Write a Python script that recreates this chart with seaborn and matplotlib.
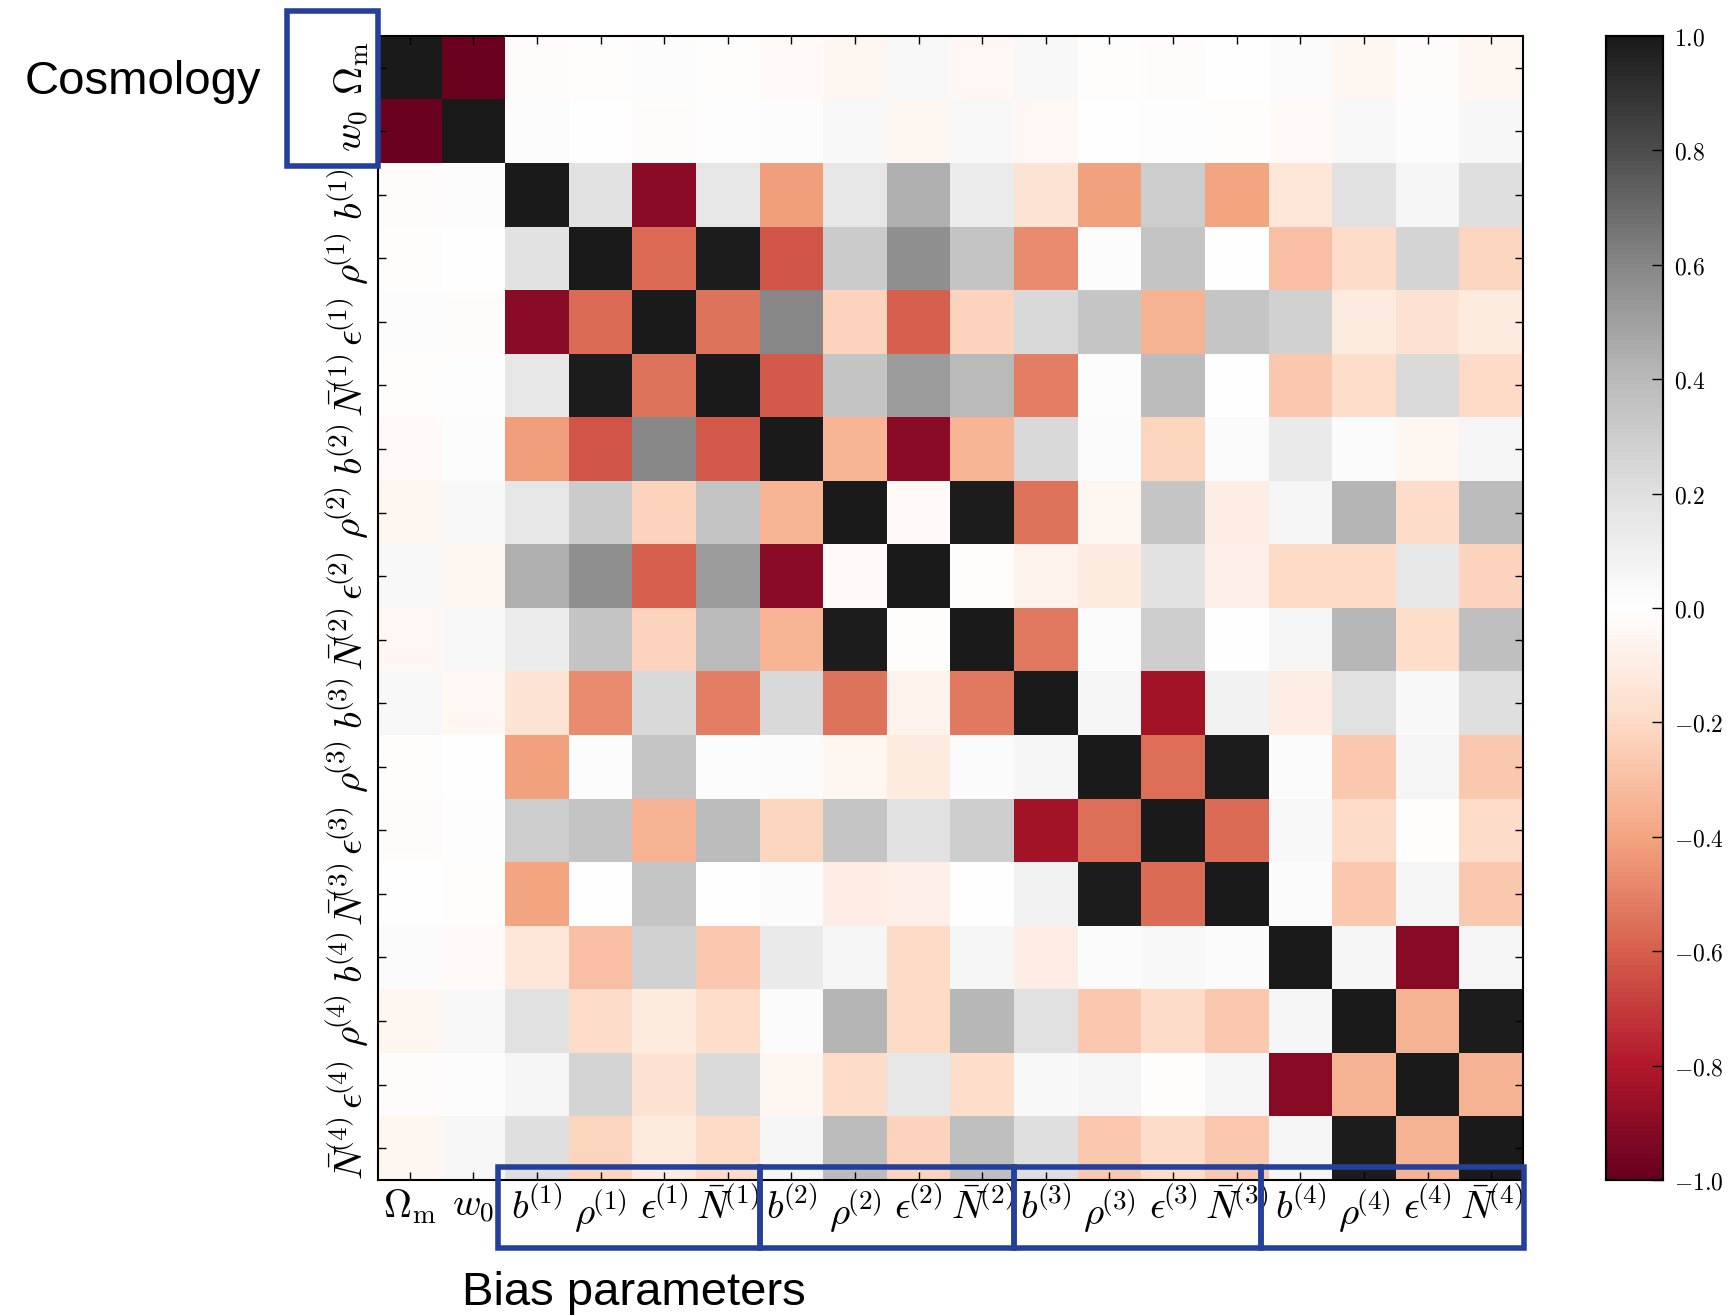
import numpy as np
import seaborn as sns
import matplotlib.pyplot as plt
from matplotlib.patches import Rectangle

plt.rcParams['mathtext.fontset'] = 'cm'

# parameter labels
labels = [r'$\Omega_{\rm m}$', r'$w_0$']
for k in range(1, 5):
    labels += [r'$b^{\!(%d)}$' % k, r'$\rho^{\!(%d)}$' % k,
               r'$\epsilon^{\!(%d)}$' % k, r'$\bar{N}^{\!(%d)}$' % k]

# lower triangle of the correlation matrix (row i, columns 0..i-1), diagonal = 1
row_w0 = [-0.99]
row_b1 = [-0.02, 0.02]
row_rho1 = [-0.01, 0.00, 0.18]
row_eps1 = [0.02, -0.02, -0.90, -0.57]
row_N1 = [-0.01, 0.01, 0.16, 0.99, -0.54]
row_b2 = [-0.03, 0.02, -0.42, -0.63, 0.60, -0.61]
row_rho2 = [-0.05, 0.04, 0.16, 0.31, -0.23, 0.35, -0.34]
row_eps2 = [0.04, -0.05, 0.44, 0.57, -0.60, 0.52, -0.90, -0.03]
row_N2 = [-0.04, 0.04, 0.13, 0.35, -0.23, 0.40, -0.34, 0.99, -0.01]
row_b3 = [0.04, -0.04, -0.15, -0.47, 0.24, -0.51, 0.24, -0.54, -0.07, -0.53]
row_rho3 = [-0.01, 0.00, -0.41, 0.02, 0.34, 0.02, 0.03, -0.05, -0.11, 0.03, 0.06]
row_eps3 = [-0.02, 0.01, 0.30, 0.35, -0.35, 0.39, -0.22, 0.34, 0.18, 0.29, -0.84, -0.56]
row_N3 = [0.00, -0.01, -0.40, 0.00, 0.34, 0.00, 0.03, -0.10, -0.08, 0.00, 0.08, 0.99, -0.57]
row_b4 = [0.03, -0.03, -0.14, -0.30, 0.28, -0.27, 0.14, 0.06, -0.20, 0.06, -0.10, 0.03, 0.04, 0.03]
row_rho4 = [-0.05, 0.04, 0.19, -0.19, -0.11, -0.18, 0.03, 0.42, -0.20, 0.41, 0.19, -0.27, -0.19, -0.27, 0.06]
row_eps4 = [-0.02, 0.02, 0.07, 0.26, -0.16, 0.23, -0.05, -0.19, 0.15, -0.18, 0.04, 0.07, -0.01, 0.07, -0.91, -0.35]
row_N4 = [-0.05, 0.05, 0.21, -0.22, -0.11, -0.20, 0.07, 0.39, -0.23, 0.37, 0.21, -0.27, -0.19, -0.27, 0.07, 0.99, -0.35]

lower = [[], row_w0, row_b1, row_rho1, row_eps1, row_N1, row_b2, row_rho2, row_eps2,
         row_N2, row_b3, row_rho3, row_eps3, row_N3, row_b4, row_rho4, row_eps4, row_N4]

n = len(labels)
corr = np.eye(n)
for i, r in enumerate(lower):
    for j, v in enumerate(r):
        corr[i, j] = v
        corr[j, i] = v

cbar_ticks = [-1.0, -0.8, -0.6, -0.4, -0.2, 0.0, 0.2, 0.4, 0.6, 0.8, 1.0]

fig = plt.figure(figsize=(17.33, 13.15), dpi=100)
ax = fig.add_axes([0.2181, 0.1027, 0.6607, 0.8700])
cax = fig.add_axes([0.9267, 0.1027, 0.0329, 0.8700])

sns.heatmap(corr, cmap='RdGy', vmin=-1, vmax=1, ax=ax, cbar_ax=cax,
            xticklabels=labels, yticklabels=labels, linewidths=0)

for s in ax.spines.values():
    s.set_visible(True)
    s.set_linewidth(1.5)
    s.set_color('black')
ax.tick_params(which='both', direction='in', top=True, right=True,
               length=6, width=1, labelsize=28, pad=5)
ax.set_xticklabels(labels, rotation=0)
ax.set_yticklabels(labels, rotation=90, va='center')

# colorbar
cax.set_yticks(cbar_ticks)
cax.set_yticklabels([r'$%.1f$' % t for t in cbar_ticks])
cax.tick_params(direction='in', length=8, width=1, labelsize=17, pad=8)
cax.set_frame_on(True)
for s in cax.spines.values():
    s.set_visible(True)
    s.set_linewidth(1.5)

# blue group boxes
blue = '#25409a'
boxes = [(-1.43, -0.39, 1.43, 2.43),
         (1.88, 17.8, 4.12, 1.27), (6.0, 17.8, 4.0, 1.27),
         (10.0, 17.8, 3.88, 1.27), (13.88, 17.8, 4.14, 1.27)]
for x0, y0, w, h in boxes:
    ax.add_patch(Rectangle((x0, y0), w, h, fill=False, edgecolor=blue,
                           linewidth=4, clip_on=False, zorder=5))

fig.text(0.014, 0.9285, 'Cosmology', fontsize=34, family='Liberation Sans',
         ha='left', va='baseline')
fig.text(0.2666, 0.0076, 'Bias parameters', fontsize=34, family='Liberation Sans',
         ha='left', va='baseline')

fig.savefig('out.png', dpi=100)
